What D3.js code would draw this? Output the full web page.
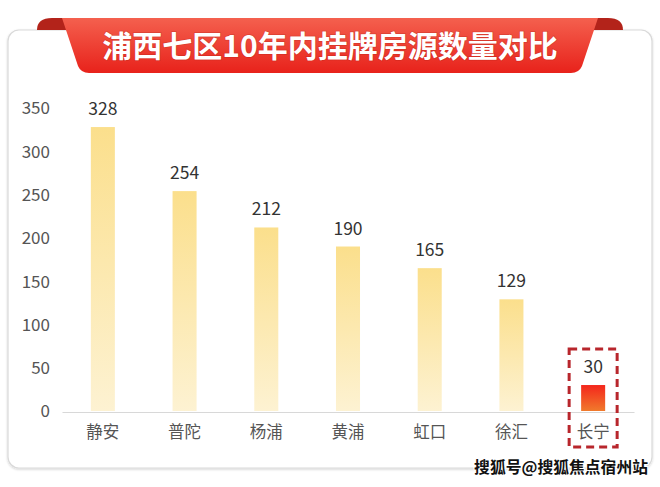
<!DOCTYPE html>
<html><head><meta charset="utf-8">
<script src="https://cdn.jsdelivr.net/npm/d3@7"></script>
<style>html,body{margin:0;padding:0;background:#fff;}svg{display:block;}</style>
</head><body>
<svg id="c" width="660" height="487"></svg>
<script>
const title = "浦西七区10年内挂牌房源数量对比";
const categories = ["静安","普陀","杨浦","黄浦","虹口","徐汇","长宁"];
const values = [328,254,212,190,165,129,30];
const yTicks = [0,50,100,150,200,250,300,350];
const highlight = "长宁";
const watermark = "搜狐号@搜狐焦点宿州站";

const font = "'Noto Sans CJK SC','Noto Sans',sans-serif";
const svg = d3.select("#c");
const defs = svg.append("defs");

const gY = defs.append("linearGradient").attr("id","gy").attr("x1",0).attr("y1",0).attr("x2",0).attr("y2",1);
gY.append("stop").attr("offset","0%").attr("stop-color","#fbdf8c");
gY.append("stop").attr("offset","100%").attr("stop-color","#fdf2d2");
const gR = defs.append("linearGradient").attr("id","gr").attr("x1",0).attr("y1",0).attr("x2",0).attr("y2",1);
gR.append("stop").attr("offset","0%").attr("stop-color","#f4261c");
gR.append("stop").attr("offset","100%").attr("stop-color","#f07a2c");
const gB = defs.append("linearGradient").attr("id","gb").attr("x1",0).attr("y1",0).attr("x2",0).attr("y2",1);
gB.append("stop").attr("offset","0%").attr("stop-color","#f4604e");
gB.append("stop").attr("offset","100%").attr("stop-color","#e8221b");
const sh = defs.append("filter").attr("id","sh").attr("x","-5%").attr("y","-5%").attr("width","110%").attr("height","110%");
sh.append("feDropShadow").attr("dx",0).attr("dy",1).attr("stdDeviation",1.2).attr("flood-color","#000").attr("flood-opacity",0.18);

// card
svg.append("rect").attr("x",8).attr("y",30).attr("width",644).attr("height",438).attr("rx",11)
  .attr("fill","#fff").attr("stroke","#d9d9d9").attr("stroke-width",1.2).attr("filter","url(#sh)");

// ribbon ears
svg.append("path").attr("d","M37,30 Q37,18 52,18 L72,18 L72,30 Z").attr("fill","#b3231a");
svg.append("path").attr("d","M623,30 Q623,18 608,18 L588,18 L588,30 Z").attr("fill","#b3231a");
// ribbon band
svg.append("path").attr("d","M62,18 L598,18 L582,66 Q579,73 571,73 L89,73 Q81,73 78,66 Z")
  .attr("fill","url(#gb)");
svg.append("text").attr("x",330).attr("y",57).attr("text-anchor","middle")
  .attr("font-family",font).attr("font-weight",700).attr("font-size",30)
  .attr("fill","#fff").style("paint-order","stroke").attr("stroke","rgba(150,20,10,0.25)").attr("stroke-width",1.5)
  .text(title);

// scales
const x = d3.scaleBand().domain(categories).range([62,634]).paddingInner(0.706).paddingOuter(0.353);
const y = d3.scaleLinear().domain([0,350]).range([411,108]);

// y axis labels
const yAxis = d3.axisLeft(y).tickValues(yTicks).tickSize(0).tickPadding(0);
const ya = svg.append("g").attr("transform","translate(50,0)").call(yAxis);
ya.select(".domain").remove();
ya.selectAll("text").attr("font-family",font).attr("font-size",17).attr("fill","#555").attr("dy","0.35em");

// x axis
const xAxis = d3.axisBottom(x).tickSize(0).tickPadding(14);
const xa = svg.append("g").attr("transform","translate(0,412)").call(xAxis);
xa.select(".domain").attr("stroke","#d8d8d8").attr("stroke-width",1.2);
xa.selectAll("text").attr("font-family",font).attr("font-size",16.5).attr("fill","#555");

// bars
const data = categories.map((c,i)=>({c, v: values[i]}));
svg.append("g").selectAll("rect").data(data).join("rect")
  .attr("x",d=>x(d.c)).attr("width",x.bandwidth())
  .attr("y",d=>y(d.v)).attr("height",d=>y(0)-y(d.v))
  .attr("fill",d=>d.c===highlight?"url(#gr)":"url(#gy)");

svg.append("g").selectAll("text").data(data).join("text")
  .attr("x",d=>x(d.c)+x.bandwidth()/2).attr("y",d=>y(d.v)-12)
  .attr("text-anchor","middle").attr("font-family",font).attr("font-size",17.5).attr("fill","#333")
  .text(d=>d.v);

// highlight dashed box
const hx = x(highlight)+x.bandwidth()/2;
svg.append("rect").attr("x",hx-24).attr("y",349).attr("width",48).attr("height",98)
  .attr("fill","none").attr("stroke","#b8262c").attr("stroke-width",3).attr("stroke-dasharray","8,5");

// watermark
svg.append("text").attr("x",648).attr("y",473).attr("text-anchor","end")
  .attr("font-family",font).attr("font-weight",700).attr("font-size",15.8).attr("fill","#111")
  .style("paint-order","stroke").attr("stroke","#fff").attr("stroke-width",2)
  .text(watermark);
</script>
</body></html>
